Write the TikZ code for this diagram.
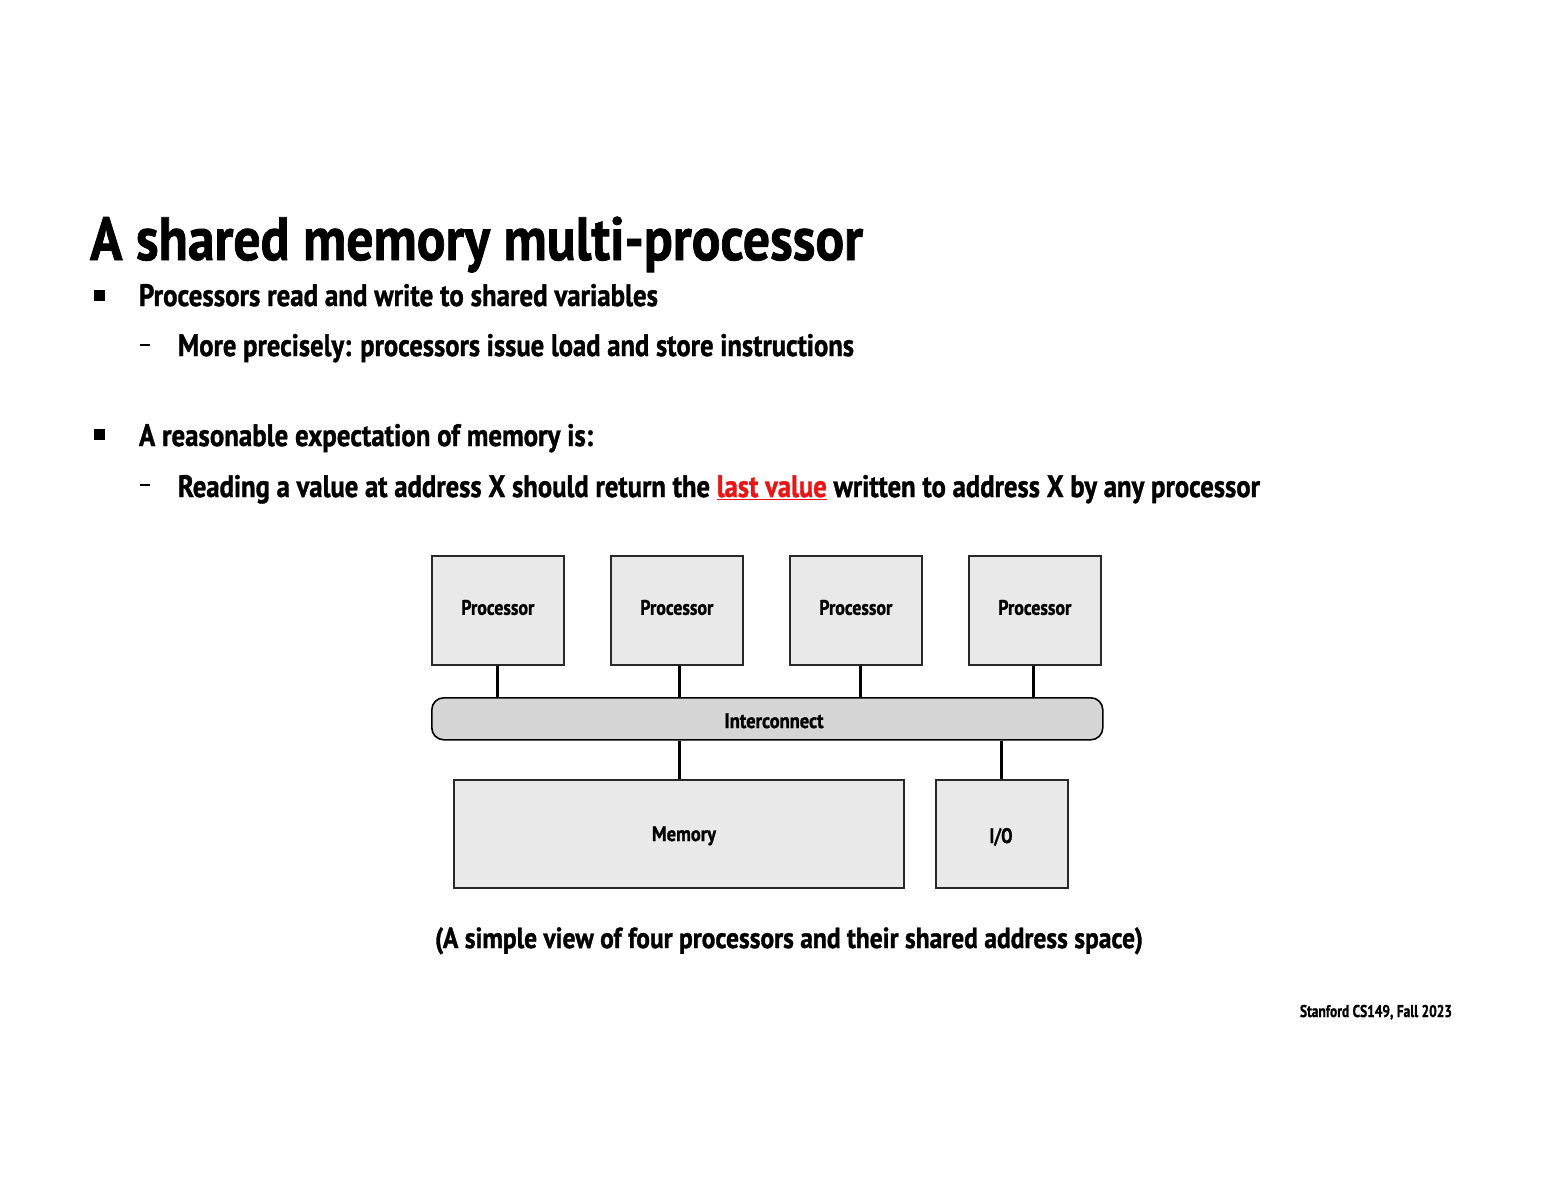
\documentclass[tikz,border=0pt]{standalone}
\usepackage{fontspec}
\setmainfont{PT Sans}[BoldFeatures={FakeBold=1.3}]
\usepackage{graphicx}
\usetikzlibrary{positioning}
\definecolor{boxfill}{RGB}{233,233,233}
\definecolor{icfill}{RGB}{214,214,214}
\definecolor{boxline}{RGB}{40,40,40}
\definecolor{hired}{RGB}{232,22,22}
\newcommand{\fitw}[2]{\resizebox{#1}{\height}{#2}}
\begin{document}
\begin{tikzpicture}[x=1pt,y=-1pt,
  txt/.style={inner sep=0pt,outer sep=0pt,font=\bfseries},
  unitbox/.style={draw=boxline,line width=1.6pt,fill=boxfill,anchor=north west,inner sep=0pt},
  link/.style={line width=3pt,black},
  bulletsq/.style={fill=black,draw=none,minimum size=11pt,inner sep=0pt},
  dashmark/.style={line width=1.8pt,black}]
\useasboundingbox (0,0) rectangle (1553,1200);
% title and bullets
\node[txt,anchor=base west,font=\bfseries\fontsize{61}{61}\selectfont] (title) at (90,260) {\fitw{773pt}{A shared memory multi-processor}};
\node[bulletsq] (b1) at (99,295) {};
\node[txt,anchor=base west,font=\bfseries\fontsize{31}{31}\selectfont] (l1) at (139,306) {\fitw{519pt}{Processors read and write to shared variables}};
\coordinate (d1a) at (140,345); \coordinate (d1b) at (150,345);
\draw[dashmark] (d1a) -- (d1b);
\node[txt,anchor=base west,font=\bfseries\fontsize{31}{31}\selectfont] (l2) at (178,356) {\fitw{676pt}{More precisely: processors issue load and store instructions}};
\node[bulletsq] (b2) at (99,434) {};
\node[txt,anchor=base west,font=\bfseries\fontsize{31}{31}\selectfont] (l3) at (139,446) {\fitw{454pt}{A reasonable expectation of memory is:}};
\coordinate (d2a) at (140,485); \coordinate (d2b) at (150,485);
\draw[dashmark] (d2a) -- (d2b);
\node[txt,anchor=base west,font=\bfseries\fontsize{31}{31}\selectfont] (l4) at (178,497) {\fitw{1082pt}{Reading a value at address X should return the \textcolor{hired}{\underline{last value}} written to address X by any processor}};
% diagram
\foreach \i/\x in {1/431,2/610,3/789,4/968}{
  \node[unitbox,minimum width=132pt,minimum height=109pt] (p\i) at (\x,555) {};
  \node[txt,anchor=base,font=\bfseries\fontsize{21}{21}\selectfont] (pt\i) at ([yshift=-4.5pt]p\i.center) {\fitw{73pt}{Processor}};
}
\node[draw=black,line width=1.6pt,fill=icfill,rounded corners=12pt,anchor=north west,minimum width=671pt,minimum height=42pt,inner sep=0pt] (ic) at (431,697) {};
\node[txt,anchor=base,font=\bfseries\fontsize{21}{21}\selectfont] (ict) at (774,728) {\fitw{99pt}{Interconnect}};
\node[unitbox,minimum width=450pt,minimum height=108pt] (mem) at (453,779) {};
\node[txt,anchor=base,font=\bfseries\fontsize{21}{21}\selectfont] (memt) at (684,841) {\fitw{64pt}{Memory}};
\node[unitbox,minimum width=132pt,minimum height=108pt] (io) at (935,779) {};
\node[txt,anchor=base,font=\bfseries\fontsize{21}{21}\selectfont] (iot) at (1001,843) {\fitw{23pt}{I/O}};
% connectors
\draw[link] (p1.south) -- (p1.south |- ic.north);
\draw[link] ([xshift=3pt]p2.south) -- ([xshift=3pt]p2.south |- ic.north);
\draw[link] ([xshift=5pt]p3.south) -- ([xshift=5pt]p3.south |- ic.north);
\draw[link] ([xshift=-1pt]p4.south) -- ([xshift=-1pt]p4.south |- ic.north);
\draw[link] ([xshift=1pt]mem.north) -- ([xshift=1pt]mem.north |- ic.south);
\draw[link] (io.north) -- (io.north |- ic.south);
% caption and footer
\node[txt,anchor=base,font=\bfseries\fontsize{29}{29}\selectfont] (cap) at (789,948) {\fitw{708pt}{(A simple view of four processors and their shared address space)}};
\node[txt,anchor=base west,font=\bfseries\fontsize{17}{17}\selectfont] (foot) at (1300,1017) {\fitw{152pt}{Stanford CS149, Fall 2023}};
\end{tikzpicture}
\end{document}
